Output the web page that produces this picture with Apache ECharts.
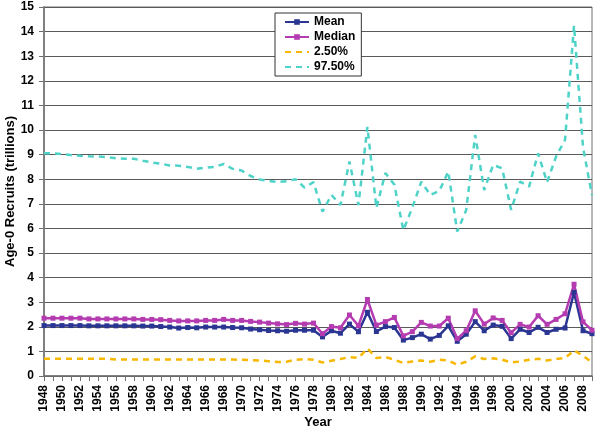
<!DOCTYPE html>
<html>
<head>
<meta charset="utf-8">
<script src="https://cdn.jsdelivr.net/npm/echarts@6/dist/echarts.min.js"></script>
<style>
html,body{margin:0;padding:0;background:#fff;}
#chart{width:600px;height:430px;}
</style>
</head>
<body>
<div id="chart"></div>
<script>
var years = [];
for (var y = 1948; y <= 2009; y++) years.push(String(y));

var meanVals = [
  2.05, 2.05, 2.05, 2.05, 2.05, 2.04, 2.04, 2.04, 2.04, 2.04,
  2.04, 2.03, 2.03, 2.01, 1.99, 1.95, 1.97, 1.96, 1.99, 1.99,
  1.99, 1.97, 1.96, 1.91, 1.88, 1.85, 1.84, 1.82, 1.86, 1.86,
  1.86, 1.59, 1.84, 1.74, 2.11, 1.80, 2.59, 1.81, 2.01, 1.97,
  1.46, 1.56, 1.70, 1.50, 1.65, 2.04, 1.41, 1.70, 2.21, 1.84,
  2.07, 2.02, 1.52, 1.90, 1.77, 1.98, 1.77, 1.90, 1.95, 3.40,
  1.84, 1.72
];
var medianVals = [
  2.35, 2.35, 2.35, 2.35, 2.35, 2.32, 2.32, 2.32, 2.32, 2.32,
  2.32, 2.30, 2.30, 2.29, 2.26, 2.24, 2.24, 2.24, 2.26, 2.26,
  2.30, 2.26, 2.26, 2.22, 2.19, 2.15, 2.12, 2.09, 2.14, 2.11,
  2.15, 1.72, 2.01, 1.96, 2.48, 2.04, 3.11, 2.07, 2.21, 2.38,
  1.63, 1.80, 2.18, 2.03, 2.03, 2.35, 1.52, 1.84, 2.65, 2.11,
  2.36, 2.26, 1.76, 2.10, 1.99, 2.45, 2.10, 2.30, 2.53, 3.73,
  2.20, 1.86
];
var p025Vals = [
  0.70, 0.70, 0.70, 0.70, 0.70, 0.70, 0.70, 0.70, 0.67, 0.67,
  0.67, 0.67, 0.67, 0.67, 0.67, 0.67, 0.67, 0.67, 0.67, 0.67,
  0.67, 0.67, 0.66, 0.65, 0.63, 0.60, 0.57, 0.58, 0.66, 0.69,
  0.66, 0.55, 0.62, 0.69, 0.77, 0.73, 1.12, 0.73, 0.77, 0.66,
  0.53, 0.59, 0.63, 0.58, 0.66, 0.63, 0.46, 0.58, 0.80, 0.69,
  0.72, 0.66, 0.55, 0.59, 0.66, 0.70, 0.63, 0.69, 0.73, 1.04,
  0.82, 0.55
];
var p975Vals = [
  9.05, 9.05, 9.02, 8.98, 8.95, 8.93, 8.92, 8.90, 8.85, 8.83,
  8.83, 8.75, 8.68, 8.63, 8.56, 8.55, 8.50, 8.42, 8.47, 8.50,
  8.62, 8.42, 8.35, 8.13, 7.99, 7.93, 7.89, 7.92, 8.00, 7.66,
  7.88, 6.68, 7.36, 6.95, 8.72, 6.95, 10.13, 6.83, 8.25, 7.78,
  5.93, 6.85, 7.90, 7.36, 7.52, 8.31, 5.87, 6.75, 9.80, 7.56,
  8.58, 8.44, 6.75, 7.90, 7.70, 9.05, 7.88, 8.92, 9.60, 14.25,
  9.30, 7.35
];
var seriesNames = ['Mean', 'Median', '2.50%', '97.50%'];
var yTicks = {min: 0, max: 15, interval: 1};

var font = 'Arial, "Liberation Sans", sans-serif';
var chart = echarts.init(document.getElementById('chart'), null, {renderer: 'canvas'});
chart.setOption({
  animation: false,
  backgroundColor: '#fff',
  grid: {left: 44, right: 8, top: 7, bottom: 54, show: true, borderColor: '#707070', borderWidth: 1,
         containLabel: false, outerBoundsMode: 'none'},
  legend: {
    orient: 'vertical', left: 275, top: 13,
    backgroundColor: '#fff', borderColor: '#333', borderWidth: 1,
    padding: [3, 6, 3, 9], itemGap: 3, itemWidth: 24, itemHeight: 7,
    textStyle: {fontFamily: font, fontWeight: 'bold', fontSize: 12, color: '#000', lineHeight: 12},
    data: [
      {name: seriesNames[0]},
      {name: seriesNames[1]},
      {name: seriesNames[2], itemStyle: {opacity: 0}},
      {name: seriesNames[3], itemStyle: {opacity: 0}}
    ]
  },
  xAxis: {
    type: 'category', data: years, boundaryGap: false,
    name: 'Year', nameLocation: 'middle', nameGap: 40, nameMoveOverlap: false,
    nameTextStyle: {fontFamily: font, fontWeight: 'bold', fontSize: 13, color: '#000'},
    axisLine: {lineStyle: {color: '#707070', width: 1.5}},
    axisTick: {interval: 0, length: 5, lineStyle: {color: '#707070'}},
    axisLabel: {interval: 1, rotate: 90, margin: 9, fontFamily: font, fontWeight: 'bold', fontSize: 12, color: '#000'},
    splitLine: {show: false}
  },
  yAxis: {
    type: 'value', min: yTicks.min, max: yTicks.max, interval: yTicks.interval,
    name: 'Age-0 Recruits (trillions)', nameLocation: 'middle', nameGap: 27, nameMoveOverlap: false,
    nameTextStyle: {fontFamily: font, fontWeight: 'bold', fontSize: 13, color: '#000'},
    axisLine: {show: true, lineStyle: {color: '#808080', width: 2}},
    axisTick: {show: true, length: 5, lineStyle: {color: '#707070'}},
    axisLabel: {margin: 10, fontFamily: font, fontWeight: 'bold', fontSize: 12, color: '#000'},
    splitLine: {lineStyle: {color: '#5a5a5a', width: 1.2}}
  },
  series: [
    {name: seriesNames[3], type: 'line', data: p975Vals, symbol: 'none',
     lineStyle: {color: '#4fd3c9', width: 2.5, type: [6, 5]}, itemStyle: {color: '#4fd3c9'}},
    {name: seriesNames[2], type: 'line', data: p025Vals, symbol: 'none',
     lineStyle: {color: '#f6b800', width: 2.5, type: [6, 5]}, itemStyle: {color: '#f6b800'}},
    {name: seriesNames[0], type: 'line', data: meanVals, symbol: 'rect', symbolSize: 5,
     lineStyle: {color: '#2b3592', width: 2.5}, itemStyle: {color: '#2b3592'}},
    {name: seriesNames[1], type: 'line', data: medianVals, symbol: 'rect', symbolSize: 5,
     lineStyle: {color: '#b43cb0', width: 2.5}, itemStyle: {color: '#b43cb0'}}
  ]
});
</script>
</body>
</html>
